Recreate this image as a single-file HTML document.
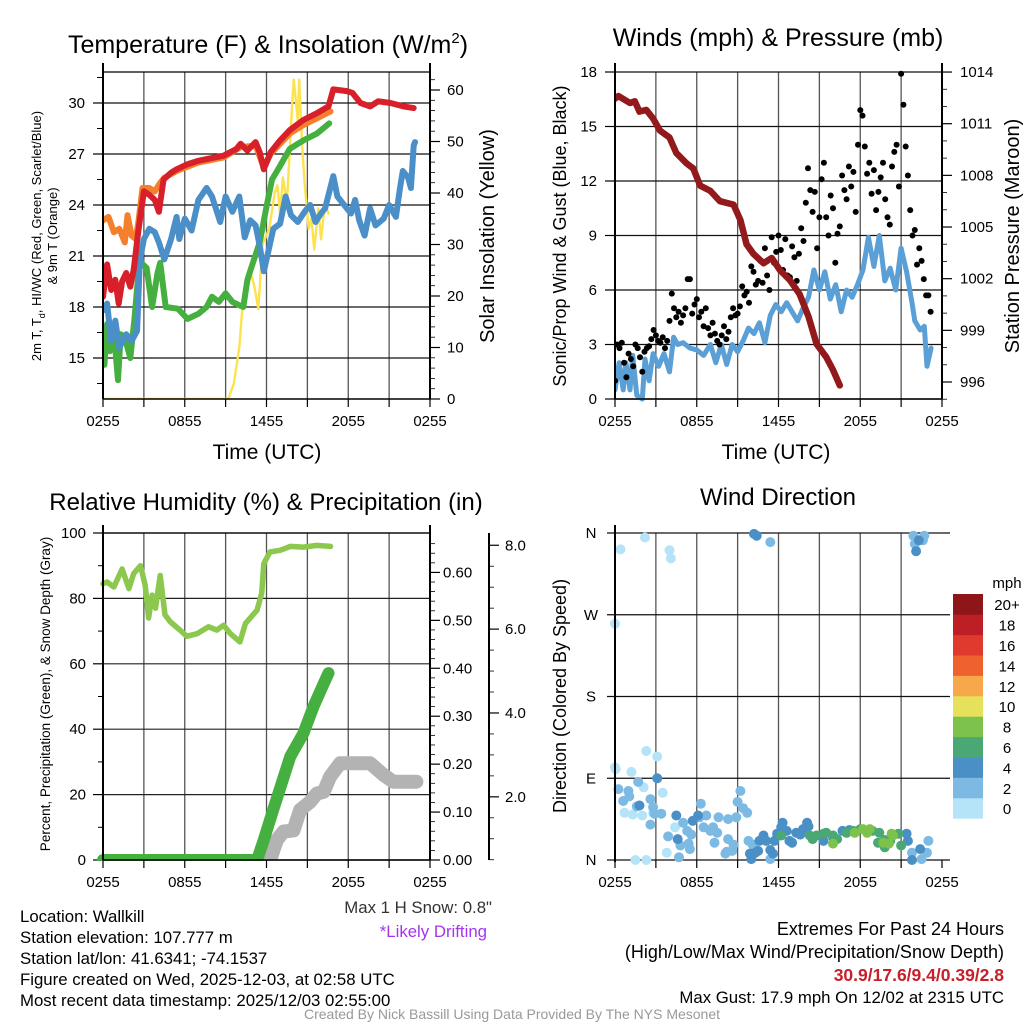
<!DOCTYPE html>
<html><head><meta charset="utf-8">
<style>
html,body{margin:0;padding:0;background:#fff;}
svg{display:block;font-family:"Liberation Sans",Arial,sans-serif;}
</style></head>
<body>
<svg id="fig" width="1024" height="1024" viewBox="0 0 1024 1024" xmlns="http://www.w3.org/2000/svg"></svg>
<script>
// ---------- DATA ----------
// Panel 1: temperature (F) & insolation
const tempT   = [0,0.3,0.6,0.9,1.15,1.4,1.7,2.0,2.25,2.6,3.0,3.4,3.8,4.1,4.45,5.0,5.4,6.2,7.0,7.6,8.85,9.8,10.1,10.6,11.2,11.5,11.8,12.3,13.0,13.7,14.7,15.7,16.55,16.9,17.9,18.3,18.9,19.6,20.2,21.1,22.05,22.8];
const tempV   = [18.6,20.5,19.0,19.6,18.2,19.5,20.0,19.2,20.2,22.5,24.8,24.6,24.3,23.6,25.5,25.9,26.1,26.4,26.6,26.7,26.9,27.3,27.6,27.2,27.7,27.1,26.1,27.1,27.8,28.4,29.0,29.4,29.8,30.8,30.7,30.6,30.0,29.8,30.1,30.0,29.8,29.7];
const t9T     = [0,0.4,0.8,1.2,1.6,1.8,2.1,2.4,2.6,2.9,3.4,3.8,4.2,4.5,5.4,7.0,8.85,10.1,11.2,11.8,12.3,13.0,13.7,14.7,15.7,16.7];
const t9V     = [23.1,23.3,22.4,22.6,21.8,23.4,22.2,22.0,23.0,25.0,25.0,24.8,25.3,25.6,26.0,26.5,26.8,27.4,27.5,26.2,27.0,27.6,28.2,28.7,29.1,29.5];
const tdT     = [0,0.1,0.3,0.5,0.8,1.1,1.3,1.6,2.0,2.3,2.6,2.8,3.2,3.6,4.0,4.2,4.6,5.5,6.2,7.0,7.6,8.0,8.5,9.0,9.5,10.0,10.3,10.6,11.0,11.5,12.0,12.4,13.0,13.7,14.7,15.7,16.6];
const tdV     = [14.9,14.6,17.0,15.4,16.5,13.7,16.4,16.2,15.0,17.2,20.0,20.6,20.3,18.0,20.0,20.6,18.0,17.9,17.3,17.6,18.0,18.6,18.3,18.8,18.3,18.1,18.0,19.6,20.6,21.8,23.9,25.5,26.3,27.3,27.8,28.2,28.8];
const wcT     = [0,0.3,0.6,0.9,1.2,1.7,2.1,2.5,2.7,3.0,3.4,3.8,4.1,4.5,5.0,5.4,5.6,6.0,6.5,7.0,7.6,8.0,8.6,9.0,9.5,10.0,10.4,10.8,11.2,11.5,11.8,12.2,12.5,13.0,13.4,13.8,14.3,14.8,15.2,15.6,16.0,16.3,16.9,17.2,17.6,18.2,18.5,18.8,19.2,19.6,20.0,20.6,21.0,21.5,21.8,22.0,22.4,22.6,22.8,22.9];
const wcV     = [17.8,18.2,16.0,17.2,15.6,16.4,16.0,16.6,20.7,22.0,22.6,22.4,21.8,20.8,22.0,23.3,22.0,23.2,22.5,24.3,25.0,24.5,23.0,24.5,23.6,24.5,22.1,23.1,22.8,21.6,20.1,21.5,22.6,22.9,24.5,23.4,23.0,23.6,24.0,23.0,23.5,23.8,25.7,24.5,24.1,23.5,24.3,23.1,22.2,23.8,22.8,23.2,24.0,23.3,25.0,26.0,25.6,25.0,27.5,27.7];
const solT    = [0,9.2,9.6,10.0,10.3,10.6,10.9,11.1,11.4,11.7,12.2,12.6,12.8,13.0,13.2,13.5,13.9,14.0,14.3,14.4,14.6,14.8,15.1,15.3,15.5,15.8,16.0,16.3,16.55];
const solV    = [0,0,3,10,20,22,24,22,17.5,30,33,40,41.5,36,43,38,58,62,54,62,50,42,33,35,29,37,31,38,36];
const tempTicks = [15,18,21,24,27,30];
const solTicks  = [0,10,20,30,40,50,60];
const timeLabels = ["0255","0855","1455","2055","0255"];

// Panel 2: winds & pressure
const presT = [0,0.25,1.1,1.45,1.8,2.3,2.8,3.3,4.0,4.5,5.25,5.75,6.25,7.0,7.7,8.7,9.2,9.65,10.15,10.9,11.5,12.1,12.85,13.55,14.2,14.8,15.5,16.0,16.5];
const presV = [1012.45,1012.6,1012.2,1012.3,1011.7,1011.8,1011.3,1010.6,1010.2,1009.3,1008.7,1008.4,1007.4,1007.1,1006.5,1006.3,1005.4,1004.0,1003.45,1002.9,1003.2,1002.5,1001.9,1001.1,999.8,998.2,997.45,996.7,995.8];
const windT = [0,0.3,0.6,0.8,1.1,1.3,1.6,2.0,2.2,2.5,2.8,3.2,3.6,4.0,4.3,4.6,5.0,5.5,6.0,6.5,7.0,7.4,7.8,8.2,8.6,9.0,9.4,9.8,10.2,10.6,11.0,11.4,11.8,12.2,12.6,13.0,13.4,13.8,14.2,14.6,15.0,15.4,15.8,16.2,16.6,17.0,17.4,17.8,18.2,18.6,19.0,19.4,19.8,20.2,20.6,21.0,21.4,21.8,22.0,22.4,22.7,22.9,23.2];
const windV = [0.5,2.0,0.5,2.0,0.5,2.4,0.2,0.0,2.2,1.0,2.5,1.8,2.5,1.5,3.4,3.0,3.1,2.8,2.7,2.4,3.0,2.0,3.0,1.9,3.0,2.6,3.2,3.9,3.6,4.2,3.1,4.6,5.2,4.8,5.3,4.8,4.3,5.0,5.6,7.1,6.0,7.0,5.5,6.3,4.8,6.0,5.6,6.3,7.1,8.9,7.3,9.0,6.5,7.2,6.0,8.3,7.0,5.3,4.3,3.8,4.0,1.8,2.8];
// gusts every 10 minutes from 0255
const gustV = [1.0,3.0,2.8,3.1,2.0,1.2, 2.5,2.2,1.8,3.0,2.8,2.3, 1.5,2.6,2.8,2.9,3.3,3.8, 3.5,3.2,3.1,3.4,2.8,3.2,
  4.3,5.8,5.0,4.5,4.8,4.2, 4.6,5.0,6.6,6.6,4.7,5.2, 5.5,4.5,4.8,4.0,5.0,3.9, 3.5,4.2,3.6,3.2,3.0,3.5,
  4.0,3.3,3.7,4.5,5.0,4.6, 4.7,5.1,6.2,5.7,5.9,5.3, 7.3,7.0,6.3,6.5,7.6,6.4, 8.3,6.8,6.0,8.9,7.5,8.1,
  9.0,8.2,7.1,8.8,6.8,6.7, 8.4,7.8,6.5,8.0,9.4,8.7, 10.8,12.7,11.5,10.3,11.4,8.3, 10.0,12.1,13.0,10.0,9.0,11.2,
  10.5,7.5,9.1,9.5,12.3,11.5, 11.0,12.8,11.7,12.5,10.3,14.0, 15.9,15.6,13.9,12.4,13.0,11.3, 12.6,10.4,11.4,12.2,13.0,11.0,
  10.0,9.6,12.8,13.6,14.0,11.7, 17.9,16.2,13.9,12.3,10.4,9.0, 9.3,7.4,8.3,7.6,6.6,5.7, 5.7,4.8];
const windTicks = [0,3,6,9,12,15,18];
const presTicks = [996,999,1002,1005,1008,1011,1014];

// Panel 3: RH, precipitation, snow depth
const rhT = [0,0.3,0.8,1.4,1.9,2.25,2.75,3.1,3.35,3.6,3.85,4.2,4.55,4.95,5.65,6.15,6.9,7.75,8.35,8.85,9.35,10.05,10.45,11.3,11.65,11.8,12.25,13.0,13.75,14.7,15.7,16.7];
const rhV = [84.5,85,83.5,89,83,87.6,90,84,74,81,77,87,75,72.8,70.3,68.4,69.2,71.3,70.3,71.8,69.2,66.7,72.3,76.4,81.5,90.6,94.2,94.7,95.9,95.7,96.2,95.9];
const prT = [0,11.3,11.8,12.4,13.75,14.7,15.45,16.2,16.55];
const prV = [0,0,0.042,0.097,0.216,0.264,0.32,0.368,0.39];
const snT = [11.9,12.27,12.76,13.25,13.98,14.47,15.2,15.7,16.2,16.67,17.4,19.6,20.6,21.3,23.0];
const snV = [0.2,0.5,0.97,1.17,1.2,1.69,1.88,2.08,2.12,2.48,2.8,2.8,2.52,2.36,2.36];
const rhTicks = [0,20,40,60,80,100];
const prTicks = [0,0.1,0.2,0.3,0.4,0.5,0.6];
const snTicks = [2,4,6,8];

// Panel 4: wind direction scatter (time h, direction deg, speed mph)
const dirT = [0.4,2.2,4.0,4.1,0.0,0.0,0.05,2.3,3.1,1.2,1.5,2.3,3.8,3.5,2.1,0.7,1.3,2.0,2.8,4.4,
  0.25,0.98,0.6,1.05,1.6,1.7,2.6,2.8,2.9,2.6,3.4,3.9,4.8,4.7,5.0,5.3,5.4,5.5,5.6,6.3,6.2,6.5,6.7,7.0,7.2,7.5,7.6,7.3,8.1,8.2,8.3,8.3,8.6,8.7,8.9,9.0,9.2,9.4,9.7,9.8,10.1,11.4,11.4,21.9,22.0,22.6,22.7,23.0,22.9,21.8,22.5,
  10.2,10.4,22.1,22.3,4.5,4.6,5.7,6.1,3.1,1.8,9.9,10.0,10.3,10.5,10.6,10.9,11.1,11.4,11.6,11.7,11.9,12.2,12.3,12.6,12.8,13.0,13.3,13.6,13.8,14.1,14.2,15.3,16.0,16.7,17.2,21.4,21.5,21.8,22.4,
  12.2,14.3,14.5,14.8,15.3,15.5,16.0,16.3,17.0,17.5,18.0,18.9,19.4,19.3,19.8,20.2,20.8,21.0,19.8,
  16.0,17.6,18.2,18.5,18.7,19.7,20.1,20.4,20.3];
const dirV = [342,355,341,332,260,102,100,120,114,97,0,0,8,74,80,52,50,49,52,36,
  78,76,65,70,59,86,67,58,51,39,51,26,16,3,41,32,18,12,28,62,47,36,49,32,36,30,47,19,7,9,23,45,10,17,47,64,76,57,52,21,17,1,350,357,348,352,357,21,8,8,1,
  359,357,340,352,49,23,43,49,90,60,7,1,8,10,21,27,21,11,7,21,29,36,41,32,21,19,30,28,34,41,37,21,25,32,33,29,21,0,12,
  27,27,23,27,29,30,27,23,30,32,34,32,30,19,14,21,29,16,22,
  18,30,34,30,34,19,18,27,29];
const dirS = [1,1,1,1,1,1,1,1,1,1,1,1,1,1,1,1,1,1,1,1,
  2,2,2,2,2,2,2,2,2,2,2,2,2,2,2,2,2,2,2,2,2,2,2,2,2,2,2,2,2,2,2,2,2,2,2,2,2,2,2,2,2,2,2,2,2,2,2,2,2,2,2,
  4,4,4,4,4,4,4,4,4,4,4,4,4,4,4,4,4,4,4,4,4,4,4,4,4,4,4,4,4,4,4,4,4,4,4,4,4,4,4,
  6,6,6,6,6,6,6,6,6,6,6,6,6,6,6,6,6,6,6,
  8,8,8,8,8,8,8,8,8];
const dirLabels = ["N","E","S","W","N"];
const cbLabels = ["0","2","4","6","8","10","12","14","16","18","20+"];
const cbColors = ["#b5e3f8","#7cbae4","#4a90c6","#4aa874","#7dc24c","#e6e15a","#f6a84b","#f0622d","#df3a2d","#be1e26","#8e1619"];

// ---------- RENDER ----------
const NS = "http://www.w3.org/2000/svg";
const svg = document.getElementById("fig");
function mk(tag, attrs, parent){
  const e = document.createElementNS(NS, tag);
  for (const k in attrs) e.setAttribute(k, attrs[k]);
  (parent||svg).appendChild(e);
  return e;
}
function txt(s, x, y, size, anchor, parent, extra){
  const e = mk("text", Object.assign({x:x, y:y, "font-size":size, "text-anchor":anchor||"middle", fill:"#000"}, extra||{}), parent);
  e.textContent = s;
  return e;
}
function poly(ts, vs, fx, fy, color, w, parent){
  let d = "";
  for (let i=0;i<ts.length;i++) d += (i?"L":"M") + fx(ts[i]).toFixed(1) + "," + fy(vs[i]).toFixed(1);
  return mk("path", {d:d, fill:"none", stroke:color, "stroke-width":w, "stroke-linejoin":"round", "stroke-linecap":"round"}, parent);
}
function timeAxis(g, L, R, B){
  const fx = t => L + (R-L)*t/24;
  for (let i=0;i<=8;i++){
    const x = fx(i*3);
    mk("line",{x1:x,y1:B,x2:x,y2:B+8,stroke:"#000","stroke-width":1.2}, g);
  }
  timeLabels.forEach((s,i)=>{
    const lab = txt(s, fx(i*6), B+27, 15, "middle", g);
    
    
  });
}
function vgrid(g, L, R, T, B){
  for (let i=1;i<8;i++){
    const x = L + (R-L)*i/8;
    mk("line",{x1:x,y1:T,x2:x,y2:B,stroke:"#555","stroke-width":1.3}, g);
  }
}

// ===== Panel 1 =====
(function(){
  const L=103,R=430,T=72,B=399;
  const g = mk("g",{});
  
  
  const fx = t => L + (R-L)*t/24;
  const fy = v => 103 + (30-v)*17;
  const fs = v => 399 - v*5.15;
  vgrid(g,L,R,T,B);
  tempTicks.forEach(v=>{
    mk("line",{x1:L,y1:fy(v),x2:R,y2:fy(v),stroke:"#111","stroke-width":1.2},g);
    mk("line",{x1:93,y1:fy(v),x2:L,y2:fy(v),stroke:"#000","stroke-width":1.2},g);
    const lab = txt(String(v), 85, fy(v)+5, 15, "end", g);
    
    
  });
  for (let v=13.5; v<32; v+=3) mk("line",{x1:97,y1:fy(v),x2:L,y2:fy(v),stroke:"#000","stroke-width":1},g);
  solTicks.forEach(v=>{
    mk("line",{x1:R,y1:fs(v),x2:R+10,y2:fs(v),stroke:"#000","stroke-width":1.2},g);
    const lab = txt(String(v), 447, fs(v)+5, 15, "start", g);
    
    
  });
  for (let v=0; v<=62; v+=2) if (v%10) mk("line",{x1:R,y1:fs(v),x2:R+5,y2:fs(v),stroke:"#000","stroke-width":0.8},g);
  const cl = mk("clipPath",{id:"c1"},g); mk("rect",{x:L,y:T,width:R-L,height:B-T},cl);
  const d = mk("g",{"clip-path":"url(#c1)"},g);
  const s1 = poly(solT, solV, fx, fs, "#fde24f", 2.4, d);
  
  
  const s2 = poly(t9T, t9V, fx, fy, "#f47f2c", 6, d);
  
  
  const s3 = poly(tdT, tdV, fx, fy, "#45b040", 6, d);
  
  
  const s4 = poly(wcT, wcV, fx, fy, "#4a8fc8", 6, d);
  
  
  const s5 = poly(tempT, tempV, fx, fy, "#d7202a", 6, d);
  
  
  mk("line",{x1:L,y1:63,x2:L,y2:B,stroke:"#000","stroke-width":2},g);
  mk("line",{x1:R,y1:63,x2:R,y2:B,stroke:"#000","stroke-width":2},g);
  mk("line",{x1:L,y1:T,x2:R,y2:T,stroke:"#000","stroke-width":1.3},g);
  mk("line",{x1:L,y1:B,x2:R,y2:B,stroke:"#000","stroke-width":1.5},g);
  timeAxis(g,L,R,B);
  const ti = txt("", 268, 53, 25, "middle", g);
  ti.innerHTML = 'Temperature (F) &amp; Insolation (W/m<tspan dy="-10" font-size="15">2</tspan><tspan dy="10">)</tspan>';
  
  
  const xl = txt("Time (UTC)", 267, 459, 21, "middle", g);
  
  
  const yl = mk("text",{transform:"translate(41,236) rotate(-90)","font-size":13,"text-anchor":"middle"},g);
  yl.innerHTML = '2m T, T<tspan dy="4" font-size="9">d</tspan><tspan dy="-4">, HI/WC (Red, Green, Scarlet/Blue)</tspan>';
  
  
  const yl2 = mk("text",{transform:"translate(57,236) rotate(-90)","font-size":13,"text-anchor":"middle"},g);
  yl2.textContent = "& 9m T (Orange)";
  
  
  const yr = mk("text",{transform:"translate(494,236) rotate(-90)","font-size":20,"text-anchor":"middle"},g);
  yr.textContent = "Solar Insolation (Yellow)";
  
  
})();

// ===== Panel 2 =====
(function(){
  const L=615,R=942,T=72,B=399;
  const g = mk("g",{});
  
  
  const fx = t => L + (R-L)*t/24;
  const fy = v => B - v*(B-T)/18;
  const fp = p => 382 - (p-996)*17.22;
  vgrid(g,L,R,T,B);
  windTicks.forEach(v=>{
    mk("line",{x1:L,y1:fy(v),x2:R,y2:fy(v),stroke:"#111","stroke-width":1.2},g);
    mk("line",{x1:L-10,y1:fy(v),x2:L,y2:fy(v),stroke:"#000","stroke-width":1.2},g);
    const lab = txt(String(v), 597, fy(v)+5, 15, "end", g);
    
    
  });
  presTicks.forEach(v=>{
    mk("line",{x1:R,y1:fp(v),x2:R+10,y2:fp(v),stroke:"#000","stroke-width":1.2},g);
    const lab = txt(String(v), 960, fp(v)+5, 15, "start", g);
    
    
  });
  for (let v=995; v<=1014; v++) if ((v-996)%3) mk("line",{x1:R,y1:fp(v),x2:R+5,y2:fp(v),stroke:"#000","stroke-width":0.8},g);
  const cl = mk("clipPath",{id:"c2"},g); mk("rect",{x:L,y:T-6,width:R-L,height:B-T+12},cl);
  const d = mk("g",{"clip-path":"url(#c2)"},g);
  const w = poly(windT, windV, fx, fy, "#5a9fd6", 5, d);
  
  
  gustV.forEach((v,i)=>{
    const c = mk("circle",{cx:fx(i/6).toFixed(1),cy:fy(v).toFixed(1),r:3,fill:"#000"},d);
    
    
  });
  const p = poly(presT, presV, fx, fp, "#921a1c", 6.5, d);
  
  
  mk("line",{x1:L,y1:63,x2:L,y2:B,stroke:"#000","stroke-width":2},g);
  mk("line",{x1:R,y1:63,x2:R,y2:B,stroke:"#000","stroke-width":2},g);
  mk("line",{x1:L,y1:B,x2:R,y2:B,stroke:"#000","stroke-width":1.5},g);
  timeAxis(g,L,R,B);
  const ti = txt("Winds (mph) & Pressure (mb)", 778, 46, 25, "middle", g);
  
  
  const xl = txt("Time (UTC)", 776, 459, 21, "middle", g);
  
  
  const yl = mk("text",{transform:"translate(566,236) rotate(-90)","font-size":18,"text-anchor":"middle"},g);
  yl.textContent = "Sonic/Prop Wind & Gust (Blue, Black)";
  
  
  const yr = mk("text",{transform:"translate(1019,236) rotate(-90)","font-size":20,"text-anchor":"middle"},g);
  yr.textContent = "Station Pressure (Maroon)";
  
  
})();

// ===== Panel 3 =====
(function(){
  const L=103,R=430,T=533,B=860;
  const g = mk("g",{});
  
  
  const fx = t => L + (R-L)*t/24;
  const fy = v => B - v*(B-T)/100;
  const fpr = v => B - v*479.3;
  const fsn = v => 880.7 - v*41.93;
  vgrid(g,L,R,T,B);
  rhTicks.forEach(v=>{
    mk("line",{x1:L,y1:fy(v),x2:R,y2:fy(v),stroke:"#222","stroke-width":1.2},g);
    mk("line",{x1:L-10,y1:fy(v),x2:L,y2:fy(v),stroke:"#000","stroke-width":1.2},g);
    const lab = txt(String(v), 86, fy(v)+5, 15, "end", g);
    
    
  });
  for (let v=10; v<100; v+=20) mk("line",{x1:L-5,y1:fy(v),x2:L,y2:fy(v),stroke:"#000","stroke-width":1},g);
  prTicks.forEach(v=>{
    mk("line",{x1:R,y1:fpr(v),x2:R+10,y2:fpr(v),stroke:"#000","stroke-width":1.2},g);
    const lab = txt(v.toFixed(2), 443, fpr(v)+5, 15, "start", g);
    
    
  });
  for (let v=0.02; v<0.68; v+=0.02) if (Math.round(v*100)%10) mk("line",{x1:R,y1:fpr(v),x2:R+5,y2:fpr(v),stroke:"#000","stroke-width":0.8},g);
  mk("line",{x1:489,y1:T,x2:489,y2:B,stroke:"#000","stroke-width":2},g);
  snTicks.forEach(v=>{
    mk("line",{x1:489,y1:fsn(v),x2:499,y2:fsn(v),stroke:"#000","stroke-width":1.2},g);
    const lab = txt(v.toFixed(1), 505, fsn(v)+5, 15, "start", g);
    
    
  });
  for (let v=0.5; v<8.3; v+=0.5) if (v%2) mk("line",{x1:489,y1:fsn(v),x2:494,y2:fsn(v),stroke:"#000","stroke-width":0.8},g);
  const cl = mk("clipPath",{id:"c3"},g); mk("rect",{x:L-8,y:T,width:R-L+16,height:B-T+1},cl);
  const d = mk("g",{"clip-path":"url(#c3)"},g);
  const sn = poly(snT, snV, fx, fsn, "#b3b3b3", 14, d);
  
  
  const pr = poly(prT, prV, fx, fpr, "#45b040", 12, d);
  
  
  const rh = poly(rhT, rhV, fx, fy, "#8bc84d", 5.5, d);
  
  
  mk("line",{x1:L,y1:525,x2:L,y2:B,stroke:"#000","stroke-width":2},g);
  mk("line",{x1:R,y1:525,x2:R,y2:B,stroke:"#000","stroke-width":2},g);
  mk("line",{x1:L,y1:T,x2:R,y2:T,stroke:"#000","stroke-width":1.3},g);
  mk("line",{x1:L,y1:B,x2:R,y2:B,stroke:"#000","stroke-width":1.5},g);
  timeAxis(g,L,R,B);
  const ti = txt("Relative Humidity (%) & Precipitation (in)", 266, 510, 24, "middle", g);
  
  
  const yl = mk("text",{transform:"translate(50,694) rotate(-90)","font-size":13.5,"text-anchor":"middle"},g);
  yl.textContent = "Percent, Precipitation (Green), & Snow Depth (Gray)";
  
  
})();

// ===== Panel 4 =====
(function(){
  const L=615,R=942,T=533,B=860;
  const g = mk("g",{});
  
  
  const fx = t => L + (R-L)*t/24;
  const fy = v => B - v*(B-T)/360;
  vgrid(g,L,R,T,B);
  dirLabels.forEach((s,i)=>{
    const y = fy(i*90);
    mk("line",{x1:L-8,y1:y,x2:R+8,y2:y,stroke:"#111","stroke-width":1.2},g);
    const lab = txt(s, 591, y+5, 15, "middle", g);
    
    
  });
  const d = mk("g",{},g);
  dirT.forEach((t,i)=>{
    const c = mk("circle",{cx:fx(t).toFixed(1),cy:fy(dirV[i]).toFixed(1),r:5,fill:cbColors[Math.min(10,Math.floor(dirS[i]/2))]},d);
    
    
  });
  mk("line",{x1:L,y1:525,x2:L,y2:B+2,stroke:"#000","stroke-width":2},g);
  timeAxis(g,L,R,B);
  const ti = txt("Wind Direction", 778, 505, 24, "middle", g);
  
  
  const yl = mk("text",{transform:"translate(566,696) rotate(-90)","font-size":18,"text-anchor":"middle"},g);
  yl.textContent = "Direction (Colored By Speed)";
  
  
  // colorbar
  const cb = mk("g",{},g);
  
  
  const cbTop = 594, cellH = 20.4;
  cbLabels.forEach((s,i)=>{
    const y = cbTop + (10-i)*cellH;
    mk("rect",{x:953,y:y,width:30,height:cellH+0.3,fill:cbColors[i]},cb);
    const lab = txt(s, 1007, y+cellH/2+6, 15, "middle", cb);
    
    
  });
  const u = txt("mph", 1007, 588, 15, "middle", cb);
  
  
})();

// ===== Footer text =====
(function(){
  const g = mk("g",{});
  
  
  const lines = ["Location: Wallkill","Station elevation: 107.777 m","Station lat/lon: 41.6341; -74.1537","Figure created on Wed, 2025-12-03, at 02:58 UTC","Most recent data timestamp: 2025/12/03 02:55:00"];
  lines.forEach((s,i)=>{
    const t = txt(s, 20, 922 + i*21, 16.8, "start", g);
    
    
  });
  const a = txt('Max 1 H Snow: 0.8"', 492, 913, 16.8, "end", g, {fill:"#333"});
  
  
  const b = txt("*Likely Drifting", 487, 937, 16.8, "end", g, {fill:"#a335ee"});
  
  
  const r1 = txt("Extremes For Past 24 Hours", 1004, 935, 18, "end", g);
  
  
  const r2 = txt("(High/Low/Max Wind/Precipitation/Snow Depth)", 1004, 958, 18, "end", g);
  
  
  const r3 = txt("30.9/17.6/9.4/0.39/2.8", 1004, 981, 17.5, "end", g, {fill:"#c8202a","font-weight":"bold"});
  
  
  const r4 = txt("Max Gust: 17.9 mph On 12/02 at 2315 UTC", 1004, 1003, 16.8, "end", g);
  
  
  const c = txt("Created By Nick Bassill Using Data Provided By The NYS Mesonet", 512, 1019, 14, "middle", g, {fill:"#999"});
  
  
})();
</script>
</body></html>
